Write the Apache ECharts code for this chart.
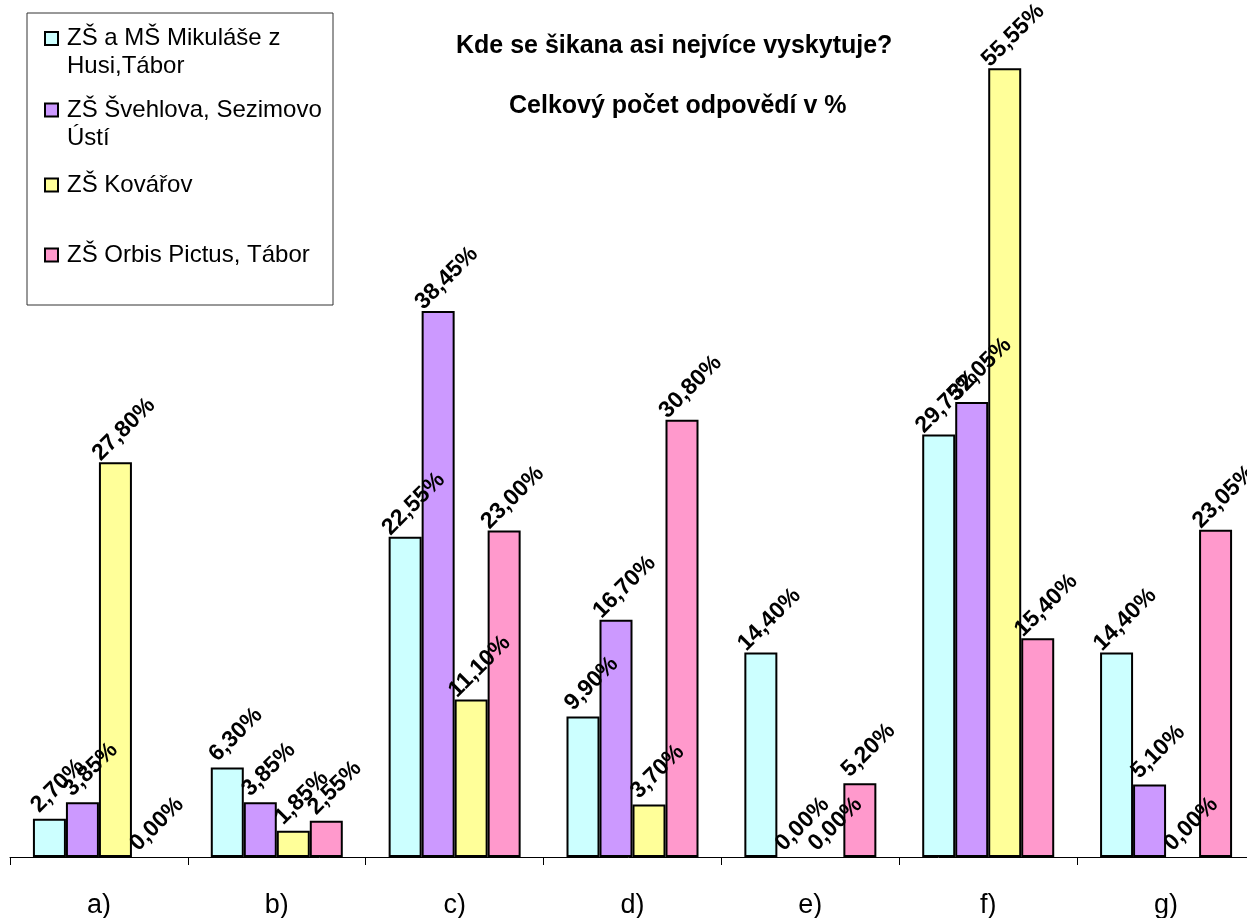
<!DOCTYPE html>
<html>
<head>
    <meta charset="utf-8">
    <script src="https://cdn.jsdelivr.net/npm/echarts@6.0.0/dist/echarts.min.js"></script>
    <style>
        html, body { margin: 0; padding: 0; background: #fff; }
    </style>
</head>
<body>
    <div id="main" style="width: 1247px;height:918px;"></div>

    <script>
        // kategorie (osa x)
        var categories = ['a)', 'b)', 'c)', 'd)', 'e)', 'f)', 'g)'];

        // skoly - nazvy zalomene jako v legende
        var schools = [
            'ZŠ a MŠ Mikuláše z\nHusi,Tábor',
            'ZŠ Švehlova, Sezimovo\nÚstí',
            'ZŠ Kovářov',
            'ZŠ Orbis Pictus, Tábor'
        ];

        // hodnoty v %
        var husi = [2.70, 6.30, 22.55, 9.90, 14.40, 29.75, 14.40];
        var svehlova = [3.85, 3.85, 38.45, 16.70, 0.00, 32.05, 5.10];
        var kovarov = [27.80, 1.85, 11.10, 3.70, 0.00, 55.55, 0.00];
        var orbis = [0.00, 2.55, 23.00, 30.80, 5.20, 15.40, 23.05];

        var colors = ['#CCFFFF', '#CC99FF', '#FFFF99', '#FF99CC'];
        var font = '"Liberation Sans", Arial, sans-serif';

        var allValues = [husi, svehlova, kovarov, orbis];

        var series = allValues.map(function (vals, i) {
            return {
                name: schools[i],
                type: 'bar',
                barWidth: 33,
                barGap: '0%',
                // nulove sloupce bez okraje
                data: vals.map(function (v) {
                    return v === 0 ? { value: v, itemStyle: { borderWidth: 0 } } : v;
                }),
                itemStyle: {
                    color: colors[i],
                    borderColor: '#000',
                    borderWidth: 2
                },
                label: {
                    show: true,
                    position: 'top',
                    distance: 30,
                    offset: [8, 4],
                    rotate: 45,
                    align: 'center',
                    verticalAlign: 'middle',
                    color: '#000',
                    fontFamily: font,
                    fontWeight: 'bold',
                    fontSize: 23,
                    formatter: function (p) {
                        return p.value.toFixed(2).replace('.', ',') + '%';
                    }
                }
            };
        });

        // legenda kreslena rucne (ikona zarovnana k prvnimu radku)
        var legendRows = [38.5, 110, 185, 255];
        var legendItems = [{
            type: 'rect',
            shape: { x: 27, y: 13, width: 306, height: 292 },
            style: { fill: '#fff', stroke: '#333', lineWidth: 1 }
        }];
        schools.forEach(function (name, i) {
            legendItems.push({
                type: 'rect',
                shape: { x: 45, y: legendRows[i] - 6.5, width: 13, height: 13 },
                style: { fill: colors[i], stroke: '#000', lineWidth: 2 }
            });
            legendItems.push({
                type: 'text',
                x: 67,
                y: legendRows[i] - 14,
                style: {
                    text: name,
                    font: '24px ' + font,
                    lineHeight: 28,
                    fill: '#000',
                    verticalAlign: 'top'
                }
            });
        });

        var myChart = echarts.init(document.getElementById('main'));

        var option = {
            animation: false,
            backgroundColor: '#fff',
            title: [{
                text: 'Kde se šikana asi nejvíce vyskytuje?',
                left: 456,
                top: 34,
                padding: 0,
                textStyle: { fontFamily: font, fontSize: 25, fontWeight: 'bold', color: '#000' }
            }, {
                text: 'Celkový počet odpovědí v %',
                left: 509,
                top: 94,
                padding: 0,
                textStyle: { fontFamily: font, fontSize: 25, fontWeight: 'bold', color: '#000' }
            }],
            grid: {
                left: 10,
                top: 5,
                width: 1245,
                bottom: 61,
                outerBoundsMode: 'none'
            },
            xAxis: {
                type: 'category',
                data: categories,
                axisLine: { lineStyle: { color: '#000', width: 1 } },
                axisTick: { show: true, length: 8, lineStyle: { color: '#000' } },
                axisLabel: {
                    color: '#000',
                    fontFamily: font,
                    fontSize: 27,
                    margin: 35
                }
            },
            yAxis: {
                type: 'value',
                min: 0,
                max: 60,
                show: false
            },
            graphic: legendItems,
            series: series
        };

        myChart.setOption(option);
    </script>
</body>
</html>
